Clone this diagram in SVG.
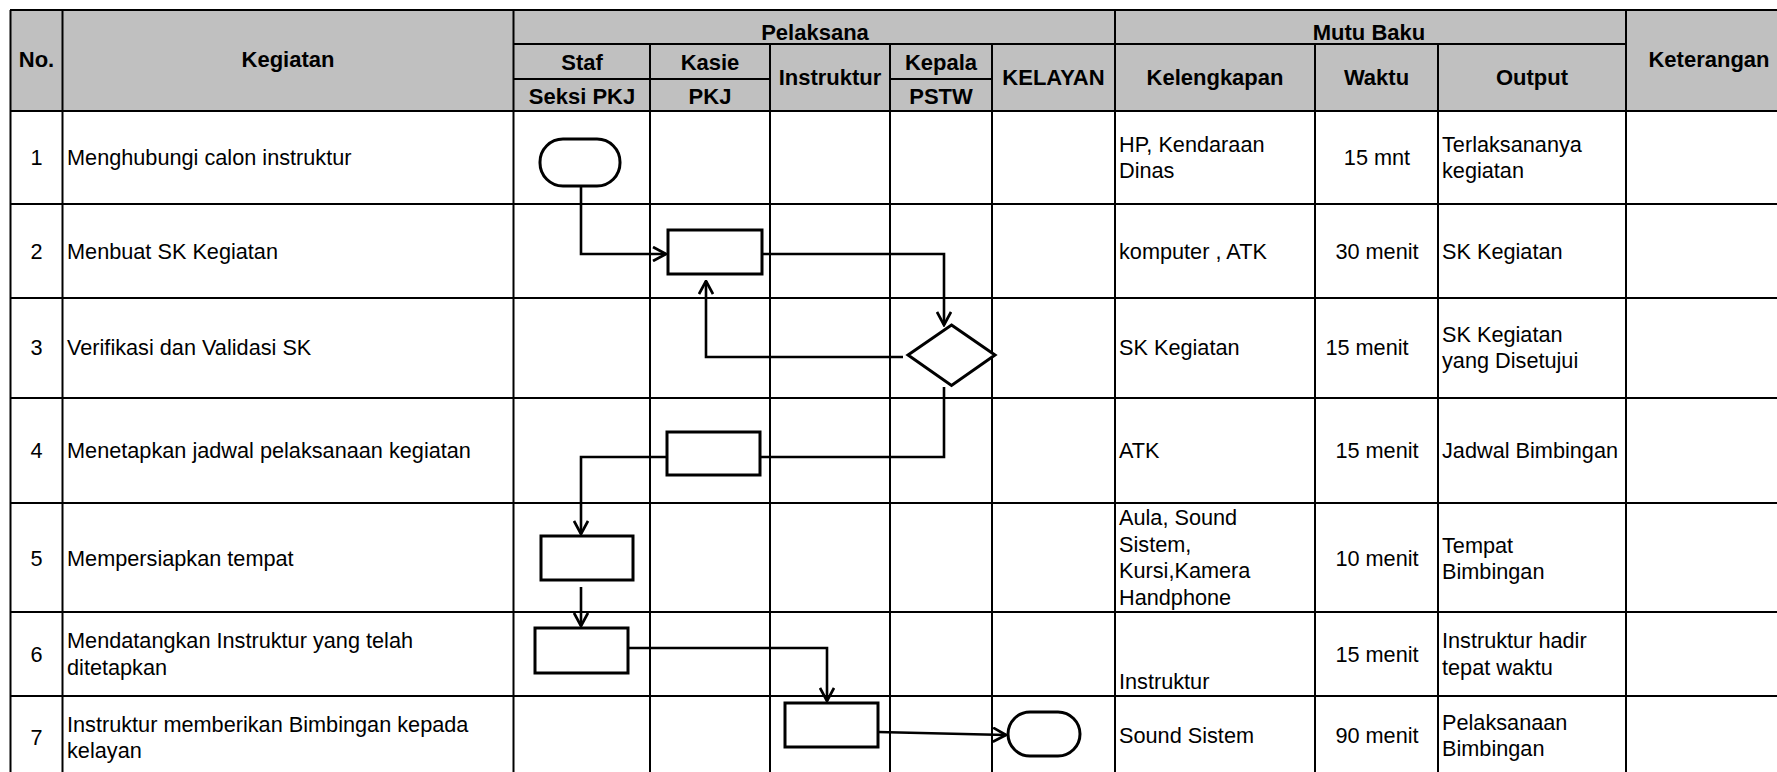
<svg xmlns="http://www.w3.org/2000/svg" width="1777" height="772" viewBox="0 0 1777 772">
<style>
  .g { stroke: #000; stroke-width: 2; fill: none; }
  .h { font-family: "Liberation Sans", Arial, sans-serif; font-weight: bold; font-size: 22px; text-anchor: middle; fill: #000; }
  .t { font-family: "Liberation Sans", Arial, sans-serif; font-size: 21.7px; fill: #000; }
  .c { text-anchor: middle; }
  .shape { fill: #fff; stroke: #000; stroke-width: 3; }
  .conn { fill: none; stroke: #000; stroke-width: 2.6; }
</style>
<defs>
  <marker id="arr" viewBox="0 0 16 16" refX="14.5" refY="8" markerWidth="16" markerHeight="16" markerUnits="userSpaceOnUse" orient="auto">
    <path d="M1.5,1 L14.5,8 L1.5,15" fill="none" stroke="#000" stroke-width="2.7"/>
  </marker>
</defs>
<rect width="1777" height="772" fill="#fff"/>
<g id="table">
  <rect x="10" y="10" width="1767" height="101" fill="#c0c0c0"/>
  <path class="g" d="M10,10 H1777 M10,111 H1777 M10,204 H1777 M10,298 H1777 M10,398 H1777 M10,503 H1777 M10,612 H1777 M10,696 H1777
    M513.5,44 H1626 M513.5,79 H770 M890,79 H992
    M10.5,10 V772 M62.5,10 V772 M513.5,10 V772 M1115,10 V772 M1626,10 V772
    M650,44 V772 M770,44 V772 M890,44 V772 M992,44 V772 M1315,44 V772 M1438,44 V772"/>
  <g id="header" class="h">
    <text x="36.5" y="67">No.</text>
    <text x="288" y="67">Kegiatan</text>
    <text x="815" y="40">Pelaksana</text>
    <text x="1369" y="40">Mutu Baku</text>
    <text x="1709" y="67">Keterangan</text>
    <text x="582" y="69.5">Staf</text>
    <text x="710" y="69.5">Kasie</text>
    <text x="941" y="69.5">Kepala</text>
    <text x="582" y="104">Seksi PKJ</text>
    <text x="710" y="104">PKJ</text>
    <text x="941" y="104">PSTW</text>
    <text x="830" y="85">Instruktur</text>
    <text x="1053.5" y="85">KELAYAN</text>
    <text x="1215" y="85">Kelengkapan</text>
    <text x="1376.5" y="85">Waktu</text>
    <text x="1532" y="85">Output</text>
  </g>
  <g id="nomor" class="t c">
    <text x="36.5" y="165">1</text>
    <text x="36.5" y="259">2</text>
    <text x="36.5" y="355">3</text>
    <text x="36.5" y="458">4</text>
    <text x="36.5" y="566">5</text>
    <text x="36.5" y="662">6</text>
    <text x="36.5" y="745">7</text>
  </g>
  <g id="kegiatan" class="t">
    <text x="67" y="165">Menghubungi calon instruktur</text>
    <text x="67" y="259">Menbuat SK Kegiatan</text>
    <text x="67" y="355">Verifikasi dan Validasi SK</text>
    <text x="67" y="458">Menetapkan jadwal pelaksanaan kegiatan</text>
    <text x="67" y="566">Mempersiapkan tempat</text>
    <text x="67" y="648">Mendatangkan Instruktur yang telah</text>
    <text x="67" y="675">ditetapkan</text>
    <text x="67" y="732">Instruktur memberikan Bimbingan kepada</text>
    <text x="67" y="758">kelayan</text>
  </g>
  <g id="kelengkapan" class="t">
    <text x="1119" y="152">HP, Kendaraan</text>
    <text x="1119" y="178">Dinas</text>
    <text x="1119" y="259">komputer , ATK</text>
    <text x="1119" y="355">SK Kegiatan</text>
    <text x="1119" y="458">ATK</text>
    <text x="1119" y="525">Aula, Sound</text>
    <text x="1119" y="552">Sistem,</text>
    <text x="1119" y="578">Kursi,Kamera</text>
    <text x="1119" y="605">Handphone</text>
    <text x="1119" y="689">Instruktur</text>
    <text x="1119" y="743">Sound Sistem</text>
  </g>
  <g id="waktu" class="t c">
    <text x="1377" y="165">15 mnt</text>
    <text x="1377" y="259">30 menit</text>
    <text x="1367" y="355">15 menit</text>
    <text x="1377" y="458">15 menit</text>
    <text x="1377" y="566">10 menit</text>
    <text x="1377" y="662">15 menit</text>
    <text x="1377" y="743">90 menit</text>
  </g>
  <g id="output" class="t">
    <text x="1442" y="152">Terlaksananya</text>
    <text x="1442" y="178">kegiatan</text>
    <text x="1442" y="259">SK Kegiatan</text>
    <text x="1442" y="342">SK Kegiatan</text>
    <text x="1442" y="368">yang Disetujui</text>
    <text x="1442" y="458">Jadwal Bimbingan</text>
    <text x="1442" y="553">Tempat</text>
    <text x="1442" y="579">Bimbingan</text>
    <text x="1442" y="648">Instruktur hadir</text>
    <text x="1442" y="675">tepat waktu</text>
    <text x="1442" y="730">Pelaksanaan</text>
    <text x="1442" y="756">Bimbingan</text>
  </g>
</g>
<g id="connectors">
  <path class="conn" d="M581,186 V254 H666" marker-end="url(#arr)"/>
  <path class="conn" d="M762,254 H944 V325" marker-end="url(#arr)"/>
  <path class="conn" d="M903,357 H706 V281" marker-end="url(#arr)"/>
  <path class="conn" d="M944,387 V457 H760"/>
  <path class="conn" d="M667,457 H581 V534" marker-end="url(#arr)"/>
  <path class="conn" d="M581,587 V626" marker-end="url(#arr)"/>
  <path class="conn" d="M628,648 H827 V701" marker-end="url(#arr)"/>
  <path class="conn" d="M878,732 L1006,735" marker-end="url(#arr)"/>
</g>
<g id="n1"><rect class="shape" x="540" y="139" width="80" height="47" rx="23"/></g>
<g id="n2"><rect class="shape" x="668" y="230" width="94" height="44"/></g>
<g id="n3"><polygon class="shape" points="951.5,325 995,355 951.5,385.5 908,355"/></g>
<g id="n4"><rect class="shape" x="667" y="432" width="93" height="43"/></g>
<g id="n5"><rect class="shape" x="541" y="536" width="92" height="44"/></g>
<g id="n6"><rect class="shape" x="535" y="628" width="93" height="45"/></g>
<g id="n7"><rect class="shape" x="785" y="703" width="93" height="44"/></g>
<g id="n8"><rect class="shape" x="1008" y="712" width="72" height="44" rx="22"/></g>
</svg>
